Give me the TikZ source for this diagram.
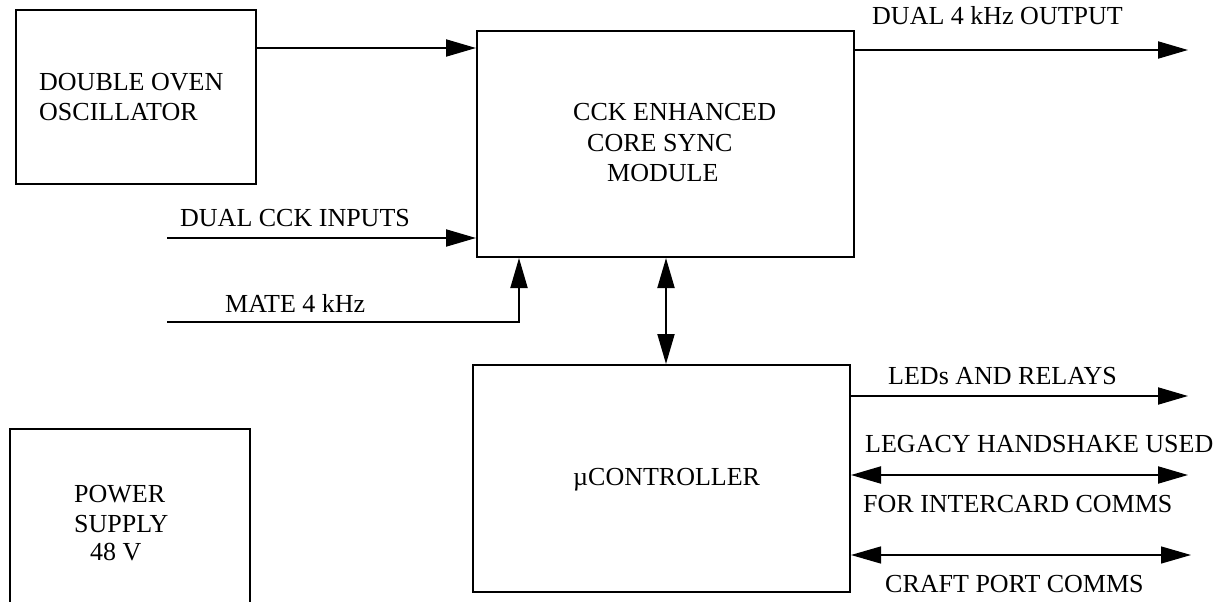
\documentclass[tikz,border=0pt]{standalone}
\usepackage{fontspec}
\setmainfont{Liberation Serif}
\usetikzlibrary{arrows.meta}
\begin{document}
\begin{tikzpicture}[x=1pt,y=-1pt,
  box/.style={draw,line width=2pt,inner sep=0pt},
  lbl/.style={anchor=base west,inner sep=0pt,font=\fontsize{26}{30}\selectfont},
  wire/.style={line width=2pt},
  arr/.style={wire,-{Triangle[length=30pt,width=17pt]}},
  biarr/.style={wire,{Triangle[length=30pt,width=17pt]}-{Triangle[length=30pt,width=17pt]}},
  thinbiarr/.style={line width=1.3pt,{Triangle[length=30pt,width=17pt]}-{Triangle[length=30pt,width=17pt]}}]
\useasboundingbox (0,0) rectangle (1229,602);

% blocks
\node[box,minimum width=240pt,minimum height=174pt] (osc) at (136,97) {};
\node[box,minimum width=377pt,minimum height=226pt] (cck) at (665.5,144) {};
\node[box,minimum width=377pt,minimum height=227pt] (uc) at (661.5,478.5) {};
\begin{scope}
  \clip (0,0) rectangle (1229,602);
  \node[box,minimum width=240pt,minimum height=200pt] (psu) at (130,529) {};
\end{scope}

% block texts
\node[lbl] (t-osc1) at (39,90) {DOUBLE OVEN};
\node[lbl] (t-osc2) at (39,120) {OSCILLATOR};
\node[lbl] (t-cck1) at (573,121) {CCK ENHANCED};
\node[lbl] (t-cck2) at (587,151) {CORE SYNC};
\node[lbl] (t-cck3) at (607,181) {MODULE};
\node[lbl] (t-uc) at (573,485) {µCONTROLLER};
\node[lbl] (t-psu1) at (74,502) {POWER};
\node[lbl] (t-psu2) at (74,532) {SUPPLY};
\node[lbl] (t-psu3) at (90,560) {48 V};

% connector end points
\path (osc.north east) ++(0,39) coordinate (osc-out);
\coordinate (cck-in) at (167,238);
\coordinate (mate-in) at (167,322);
\path (cck.south west) ++(43,0) coordinate (mate-end);
\path (cck.south west) ++(190,0) coordinate (bus-top);
\coordinate (out4k) at (1188,50);
\coordinate (leds) at (1188,396);
\coordinate (legacy) at (1188,475);
\coordinate (craft) at (1191,555);

% connectors
\draw[arr] (osc-out) -- (osc-out -| cck.west);
\draw[arr] (cck-in) -- (cck-in -| cck.west);
\draw[arr] (mate-in) -| (mate-end);
\draw[biarr] (bus-top) -- (bus-top |- uc.north);
\draw[arr] (out4k -| cck.east) -- (out4k);
\draw[arr] (leds -| uc.east) -- (leds);
\draw[biarr] (legacy -| uc.east) -- (legacy);
\draw[thinbiarr] (craft -| uc.east) -- (craft);

% connector labels
\node[lbl] (l-cck) at (180,226) {DUAL CCK INPUTS};
\node[lbl] (l-mate) at (225,312) {MATE 4 kHz};
\node[lbl] (l-out) at (872,25) {DUAL 4 kHz OUTPUT};
\node[lbl] (l-leds) at (888,384) {LEDs AND RELAYS};
\node[lbl] (l-leg1) at (865,452) {LEGACY HANDSHAKE USED};
\node[lbl] (l-leg2) at (863,512) {FOR INTERCARD COMMS};
\node[lbl] (l-craft) at (885,592) {CRAFT PORT COMMS};
\end{tikzpicture}
\end{document}
